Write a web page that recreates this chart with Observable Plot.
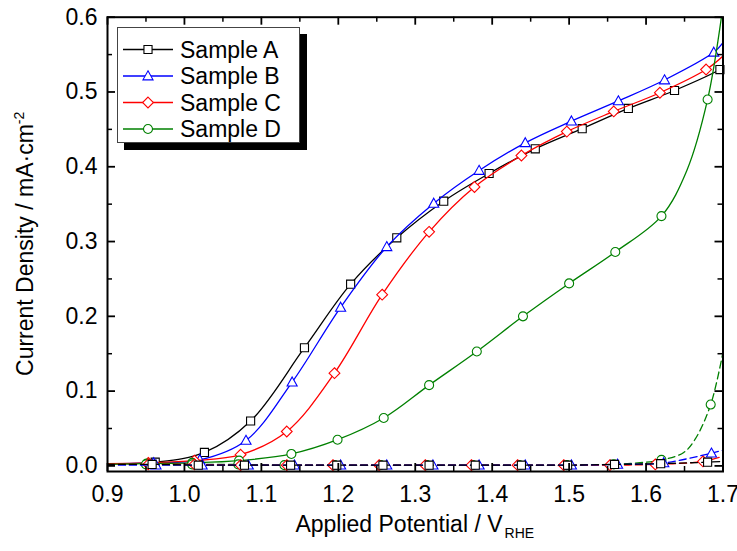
<!DOCTYPE html>
<html>
<head>
<meta charset="utf-8">
<script src="https://cdn.jsdelivr.net/npm/d3@7"></script>
<script src="https://cdn.jsdelivr.net/npm/@observablehq/plot@0.6"></script>
<style>
  html, body { margin: 0; padding: 0; background: #fff; overflow: hidden; }
  #wrap { position: relative; width: 737px; height: 551px; font-family: Arial, "Liberation Sans", sans-serif; }
  #legend { position: absolute; left: 117px; top: 27px; width: 183px; height: 116px; box-sizing: border-box;
            border: 1px solid #444; background: #fff; box-shadow: 7px 7px 0 #000; }
</style>
</head>
<body>
<div id="wrap"><div id="legend"></div></div>
<script>
// ---------- data ----------
const sampleNames = ["Sample A", "Sample B", "Sample C", "Sample D"];
const sampleColors = ["#000000", "#0000ff", "#ff0000", "#008000"];

const xMajor = [0.9, 1.0, 1.1, 1.2, 1.3, 1.4, 1.5, 1.6, 1.7];
const xMinor = [0.95, 1.05, 1.15, 1.25, 1.35, 1.45, 1.55, 1.65];
const yMajor = [0.0, 0.1, 0.2, 0.3, 0.4, 0.5, 0.6];
const yMinor = [0.05, 0.15, 0.25, 0.35, 0.45, 0.55];

// light (solid) curves; m = 1 where a marker is drawn
const aLightX = [0.900, 0.962, 1.026, 1.086, 1.156, 1.216, 1.276, 1.337, 1.396, 1.456, 1.517, 1.577, 1.637, 1.696, 1.700];
const aLightY = [0.003, 0.005, 0.018, 0.060, 0.158, 0.243, 0.305, 0.354, 0.391, 0.424, 0.451, 0.478, 0.502, 0.530, 0.533];
const aLightM = [0, 1, 1, 1, 1, 1, 1, 1, 1, 1, 1, 1, 1, 1, 0];

const bLightX = [0.900, 0.960, 1.020, 1.080, 1.140, 1.203, 1.263, 1.324, 1.383, 1.443, 1.503, 1.564, 1.624, 1.688, 1.700];
const bLightY = [0.003, 0.004, 0.008, 0.034, 0.112, 0.212, 0.293, 0.351, 0.395, 0.432, 0.461, 0.488, 0.516, 0.553, 0.566];
const bLightM = [0, 1, 1, 1, 1, 1, 1, 1, 1, 1, 1, 1, 1, 1, 0];

const cLightX = [0.900, 0.953, 1.013, 1.073, 1.133, 1.195, 1.257, 1.318, 1.377, 1.438, 1.497, 1.558, 1.618, 1.678, 1.700];
const cLightY = [0.003, 0.004, 0.007, 0.015, 0.046, 0.124, 0.229, 0.313, 0.373, 0.415, 0.447, 0.474, 0.499, 0.530, 0.548];
const cLightM = [0, 1, 1, 1, 1, 1, 1, 1, 1, 1, 1, 1, 1, 1, 0];

const dLightX = [0.900, 0.951, 1.010, 1.071, 1.139, 1.199, 1.259, 1.318, 1.380, 1.440, 1.500, 1.560, 1.620, 1.653, 1.680, 1.698, 1.708];
const dLightY = [0.002, 0.003, 0.004, 0.007, 0.016, 0.035, 0.064, 0.108, 0.153, 0.200, 0.244, 0.286, 0.334, 0.395, 0.490, 0.600, 0.680];
const dLightM = [0, 1, 1, 1, 1, 1, 1, 1, 1, 1, 1, 1, 1, 0, 1, 0, 0];

// dark (dashed) curves
const aDarkX = [0.900, 0.958, 1.018, 1.078, 1.138, 1.198, 1.258, 1.318, 1.378, 1.438, 1.498, 1.559, 1.619, 1.680, 1.700];
const aDarkY = [0.002, 0.002, 0.001, 0.001, 0.001, 0.001, 0.001, 0.001, 0.001, 0.001, 0.001, 0.002, 0.003, 0.005, 0.006];
const aDarkM = [0, 1, 1, 1, 1, 1, 1, 1, 1, 1, 1, 1, 1, 1, 0];

const bDarkX = [0.900, 0.963, 1.023, 1.083, 1.143, 1.203, 1.263, 1.323, 1.383, 1.443, 1.503, 1.563, 1.623, 1.685, 1.700];
const bDarkY = [0.001, 0.001, 0.001, 0.001, 0.001, 0.001, 0.001, 0.001, 0.001, 0.001, 0.001, 0.002, 0.004, 0.017, 0.021];
const bDarkM = [0, 1, 1, 1, 1, 1, 1, 1, 1, 1, 1, 1, 1, 1, 0];

const cDarkX = [0.900, 0.953, 1.013, 1.073, 1.133, 1.193, 1.253, 1.313, 1.373, 1.433, 1.493, 1.553, 1.612, 1.674, 1.700];
const cDarkY = [0.002, 0.002, 0.002, 0.001, 0.001, 0.001, 0.001, 0.001, 0.001, 0.001, 0.001, 0.001, 0.002, 0.006, 0.013];
const cDarkM = [0, 1, 1, 1, 1, 1, 1, 1, 1, 1, 1, 1, 1, 1, 0];

const dDarkX = [0.900, 0.950, 1.010, 1.070, 1.130, 1.195, 1.255, 1.315, 1.375, 1.435, 1.497, 1.558, 1.620, 1.649, 1.664, 1.684, 1.700];
const dDarkY = [0.002, 0.002, 0.002, 0.002, 0.001, 0.001, 0.001, 0.001, 0.001, 0.001, 0.001, 0.002, 0.008, 0.018, 0.036, 0.082, 0.152];
const dDarkM = [0, 1, 1, 1, 1, 1, 1, 1, 1, 1, 1, 1, 1, 0, 0, 1, 0];

// ---------- symbols ----------
const symSquare = {draw(ctx, size) { const h = Math.sqrt(size / Math.PI) * 0.9;
  ctx.moveTo(-h, -h); ctx.lineTo(h, -h); ctx.lineTo(h, h); ctx.lineTo(-h, h); ctx.closePath(); }};
const symTriangle = {draw(ctx, size) { const r = Math.sqrt(size / Math.PI); const w = r * 1.12;
  ctx.moveTo(0, -r * 1.15); ctx.lineTo(w, r * 0.85); ctx.lineTo(-w, r * 0.85); ctx.closePath(); }};
const symDiamond = {draw(ctx, size) { const r = Math.sqrt(size / Math.PI) * 1.2;
  ctx.moveTo(0, -r); ctx.lineTo(r, 0); ctx.lineTo(0, r); ctx.lineTo(-r, 0); ctx.closePath(); }};
const symCircle = {draw(ctx, size) { const r = Math.sqrt(size / Math.PI);
  ctx.moveTo(r, 0); ctx.arc(0, 0, r, 0, 2 * Math.PI); ctx.closePath(); }};
const sampleSymbols = [symSquare, symTriangle, symDiamond, symCircle];

// ---------- layout ----------
const W = 737, H = 551;
const mL = 107, mR = 14.5, mT = 16.7, mB = 80;
const innerW = W - mL - mR, innerH = H - mT - mB;
const FS = 23;

const curves = [
  {i: 0, dark: false, x: aLightX, y: aLightY, m: aLightM},
  {i: 1, dark: false, x: bLightX, y: bLightY, m: bLightM},
  {i: 2, dark: false, x: cLightX, y: cLightY, m: cLightM},
  {i: 3, dark: false, x: dLightX, y: dLightY, m: dLightM},
  {i: 3, dark: true,  x: dDarkX,  y: dDarkY,  m: dDarkM},
  {i: 2, dark: true,  x: cDarkX,  y: cDarkY,  m: cDarkM},
  {i: 1, dark: true,  x: bDarkX,  y: bDarkY,  m: bDarkM},
  {i: 0, dark: true,  x: aDarkX,  y: aDarkY,  m: aDarkM}
];

const marks = [];
for (const c of curves) {
  const rows = c.x.map((v, k) => ({x: v, y: c.y[k], m: c.m[k], s: sampleNames[c.i]}));
  marks.push(Plot.line(rows, {x: "x", y: "y", stroke: sampleColors[c.i], strokeWidth: 1.3,
    curve: "catmull-rom", clip: true, strokeDasharray: c.dark ? "7,4" : null}));
  marks.push(Plot.dot(rows.filter(d => d.m === 1), {x: "x", y: "y", symbol: sampleSymbols[c.i], r: 4.5,
    stroke: sampleColors[c.i], fill: "white", strokeWidth: 1.1}));
}

// ticks pointing inward on all four sides
marks.push(
  Plot.tickX(xMajor, {x: d => d, insetTop: innerH - 8, strokeWidth: 1.8}),
  Plot.tickX(xMajor, {x: d => d, insetBottom: innerH - 8, strokeWidth: 1.8}),
  Plot.tickX(xMinor, {x: d => d, insetTop: innerH - 5, strokeWidth: 1.5}),
  Plot.tickX(xMinor, {x: d => d, insetBottom: innerH - 5, strokeWidth: 1.5}),
  Plot.tickY(yMajor, {y: d => d, insetRight: innerW - 8, strokeWidth: 1.8}),
  Plot.tickY(yMajor, {y: d => d, insetLeft: innerW - 8, strokeWidth: 1.8}),
  Plot.tickY(yMinor, {y: d => d, insetRight: innerW - 5, strokeWidth: 1.5}),
  Plot.tickY(yMinor, {y: d => d, insetLeft: innerW - 5, strokeWidth: 1.5}),
  Plot.frame({stroke: "black", strokeWidth: 2}),
  Plot.axisX({ticks: xMajor, tickSize: 0, tickPadding: 14, tickFormat: d3.format(".1f"), fontSize: FS, label: null}),
  Plot.axisY({ticks: yMajor, tickSize: 0, tickPadding: 10, tickFormat: d3.format(".1f"), fontSize: FS, label: null})
);

const plot = Plot.plot({
  width: W, height: H,
  marginLeft: mL, marginRight: mR, marginTop: mT, marginBottom: mB,
  x: {domain: [0.9, 1.7]},
  y: {domain: [-0.0075, 0.6]},
  style: {fontFamily: "Arial, 'Liberation Sans', sans-serif", fontSize: FS + "px", background: "white", color: "black", overflow: "visible"},
  marks
});
plot.style.display = "block";
document.getElementById("wrap").insertBefore(plot, document.getElementById("legend"));

// axis titles with sub/superscripts
const svg = d3.select(plot);
const xt = svg.append("text").attr("x", mL + innerW / 2).attr("y", 532)
  .attr("text-anchor", "middle").attr("font-size", FS).attr("fill", "black");
xt.append("tspan").text("Applied Potential / V");
xt.append("tspan").attr("font-size", 14).attr("dy", 6).attr("dx", 2).text("RHE");

const yt = svg.append("text").attr("transform", `translate(33,${mT + innerH / 2}) rotate(-90)`)
  .attr("text-anchor", "middle").attr("font-size", FS).attr("fill", "black");
yt.append("tspan").text("Current Density / mA\u00B7cm");
yt.append("tspan").attr("font-size", 14).attr("dy", -9).text("-2");

// legend
const lg = d3.select("#legend").append("svg").attr("width", 181).attr("height", 114)
  .style("display", "block").style("font-family", "Arial, 'Liberation Sans', sans-serif");
sampleNames.forEach((name, i) => {
  const y = 21.5 + i * 26.5;
  const g = lg.append("g").attr("transform", `translate(0,${y})`);
  g.append("line").attr("x1", 5).attr("x2", 55).attr("y1", 0).attr("y2", 0)
    .attr("stroke", sampleColors[i]).attr("stroke-width", 1.3);
  g.append("path").attr("transform", "translate(30,0)")
    .attr("d", d3.symbol(sampleSymbols[i], 4.5 * 4.5 * Math.PI)())
    .attr("fill", "white").attr("stroke", sampleColors[i]).attr("stroke-width", 1.1);
  g.append("text").attr("x", 62).attr("y", 0).attr("dy", "0.36em").attr("font-size", FS).text(name);
});
</script>
</body>
</html>
